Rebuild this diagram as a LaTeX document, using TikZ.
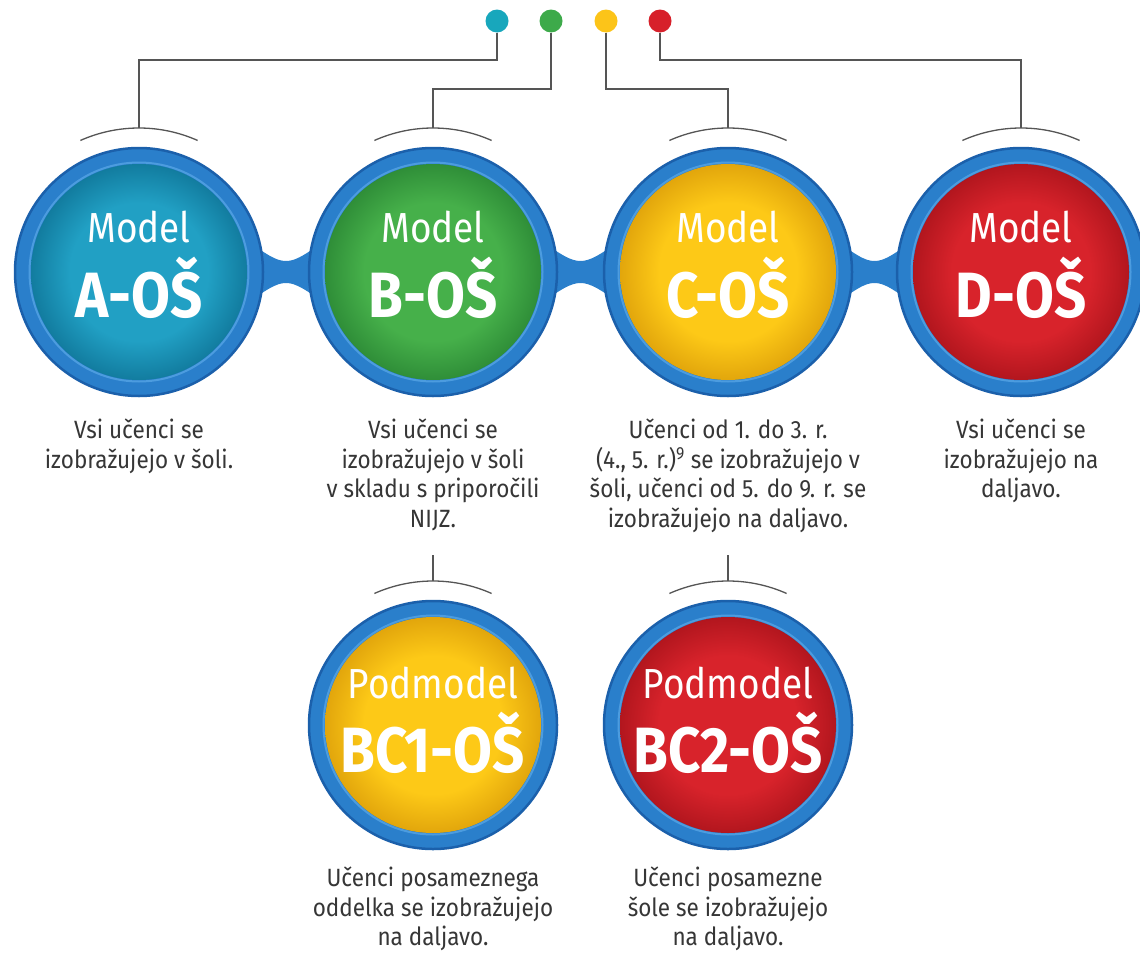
\documentclass[tikz,border=0pt]{standalone}
\usepackage{fontspec}
\setmainfont{Fira Sans}[FakeStretch=0.9]
\newfontfamily\titlefont{Fira Sans}[FakeStretch=0.88]
\usetikzlibrary{calc}
\definecolor{ringblue}{HTML}{2A7FCB}
\definecolor{ringdark}{HTML}{1B60AB}
\definecolor{ringlight}{HTML}{4C9CDF}
\definecolor{tealA}{HTML}{21A0C4}
\definecolor{tealB}{HTML}{127C9F}
\definecolor{greenA}{HTML}{46B04A}
\definecolor{greenB}{HTML}{2F8E38}
\definecolor{yellowA}{HTML}{FDC917}
\definecolor{yellowB}{HTML}{E2A60C}
\definecolor{redA}{HTML}{D8232B}
\definecolor{redB}{HTML}{B2161E}
\definecolor{dteal}{HTML}{18A7BC}
\definecolor{dgreen}{HTML}{3DAA4A}
\definecolor{dyellow}{HTML}{FCC419}
\definecolor{dred}{HTML}{D7202A}
\definecolor{linegray}{HTML}{555555}
\definecolor{txtgray}{HTML}{363636}
\pgfdeclareradialshading{shteal}{\pgfpoint{0bp}{0bp}}{color(0bp)=(tealA); color(16bp)=(tealA); color(25bp)=(tealB); color(50bp)=(tealB)}
\pgfdeclareradialshading{shgreen}{\pgfpoint{0bp}{0bp}}{color(0bp)=(greenA); color(16bp)=(greenA); color(25bp)=(greenB); color(50bp)=(greenB)}
\pgfdeclareradialshading{shyellow}{\pgfpoint{0bp}{0bp}}{color(0bp)=(yellowA); color(16bp)=(yellowA); color(25bp)=(yellowB); color(50bp)=(yellowB)}
\pgfdeclareradialshading{shred}{\pgfpoint{0bp}{0bp}}{color(0bp)=(redA); color(16bp)=(redA); color(25bp)=(redB); color(50bp)=(redB)}
\newcommand\mcirc[3]{%
  \node[ringnode] (#1) at #2 {};
  \draw[ringlight, line width=2pt] (#1.center) circle (109.5pt);
  \shade[shading=#3] (#1.center) circle (108pt);
  \draw[linegray, line width=1.3pt] (#1.center) ++(66:144pt) arc[start angle=66, end angle=114, radius=144pt];
}
\begin{document}
\begin{tikzpicture}[x=1pt,y=-1pt,
  ringnode/.style={circle, minimum size=248pt, inner sep=0pt, fill=ringblue, draw=ringdark, line width=2.5pt},
  dotn/.style={circle, minimum size=23pt, inner sep=0pt},
  conn/.style={draw=linegray, line width=1.6pt},
  ttl/.style={font=\titlefont\fontsize{42}{42}\selectfont, text=white, anchor=base, inner sep=0pt},
  big/.style={font=\titlefont\bfseries\fontsize{64}{64}\selectfont, text=white, anchor=base, inner sep=0pt},
  desc/.style={font=\fontsize{25}{29.5}\selectfont, text=txtgray, align=center, anchor=north, inner sep=0pt}]
\useasboundingbox (0,0) rectangle (1140,953);
\fill[white] (0,0) rectangle (1140,953);
% bridges
\foreach \a/\b in {139/433, 433/728, 728/1021} {
  \pgfmathsetmacro\m{(\a+\b)/2}
  \fill[ringblue] (\a+100,235) .. controls (\a+128,255) and (\m-10,261) .. (\m,261)
     .. controls (\m+10,261) and (\b-128,255) .. (\b-100,235) -- (\b-100,309)
     .. controls (\b-128,289) and (\m+10,283) .. (\m,283)
     .. controls (\m-10,283) and (\a+128,289) .. (\a+100,309) -- cycle;
}
\mcirc{A}{(139,272)}{shteal}
\mcirc{B}{(433,272)}{shgreen}
\mcirc{C}{(728,272)}{shyellow}
\mcirc{D}{(1021,272)}{shred}
\mcirc{E}{(433,725)}{shyellow}
\mcirc{F}{(728,725)}{shred}
% titles
\node[ttl] (A1) at ($(A)+(0,-30)$) {Model};
\node[big] (A2) at ($(A)+(0,45)$) {A-OŠ};
\node[ttl] (B1) at ($(B)+(0,-30)$) {Model};
\node[big] (B2) at ($(B)+(0,45)$) {B-OŠ};
\node[ttl] (C1) at ($(C)+(0,-30)$) {Model};
\node[big] (C2) at ($(C)+(0,45)$) {C-OŠ};
\node[ttl] (D1) at ($(D)+(0,-30)$) {Model};
\node[big] (D2) at ($(D)+(0,45)$) {D-OŠ};
\node[ttl] (E1) at ($(E)+(0,-27)$) {Podmodel};
\node[big] (E2) at ($(E)+(0,47)$) {BC1-OŠ};
\node[ttl] (F1) at ($(F)+(0,-27)$) {Podmodel};
\node[big] (F2) at ($(F)+(0,47)$) {BC2-OŠ};
% dots
\node[dotn, fill=dteal] (dA) at (497,21) {};
\node[dotn, fill=dgreen] (dB) at (551,21) {};
\node[dotn, fill=dyellow] (dC) at (606,21) {};
\node[dotn, fill=dred] (dD) at (660,21) {};
\coordinate (tA) at (139,128);
\coordinate (tB) at (433,128);
\coordinate (tC) at (728,128);
\coordinate (tD) at (1021,128);
\draw[conn] (dA) -- ++(0,39) -| (tA);
\draw[conn] (dB) -- ++(0,68) -| (tB);
\draw[conn] (dC) -- ++(0,68) -| (tC);
\draw[conn] (dD) -- ++(0,39) -| (tD);
\coordinate (sE) at (433,555);
\coordinate (tE) at (433,581);
\coordinate (sF) at (728,555);
\coordinate (tF) at (728,581);
\draw[conn] (sE) -- (tE);
\draw[conn] (sF) -- (tF);
% descriptions
\node[desc] (At) at (139,419) {Vsi učenci se\\izobražujejo v šoli.};
\node[desc] (Bt) at (433,419) {Vsi učenci se\\izobražujejo v šoli\\v skladu s priporočili\\NIJZ.};
\node[desc] (Ct) at (728,419) {Učenci od 1. do 3. r.\\(4., 5. r.)\textsuperscript{9} se izobražujejo v\\šoli, učenci od 5. do 9. r. se\\izobražujejo na daljavo.};
\node[desc] (Dt) at (1021,419) {Vsi učenci se\\izobražujejo na\\daljavo.};
\node[desc] (Et) at (433,867) {Učenci posameznega\\oddelka se izobražujejo\\na daljavo.};
\node[desc] (Ft) at (728,867) {Učenci posamezne\\šole se izobražujejo\\na daljavo.};
\end{tikzpicture}
\end{document}
